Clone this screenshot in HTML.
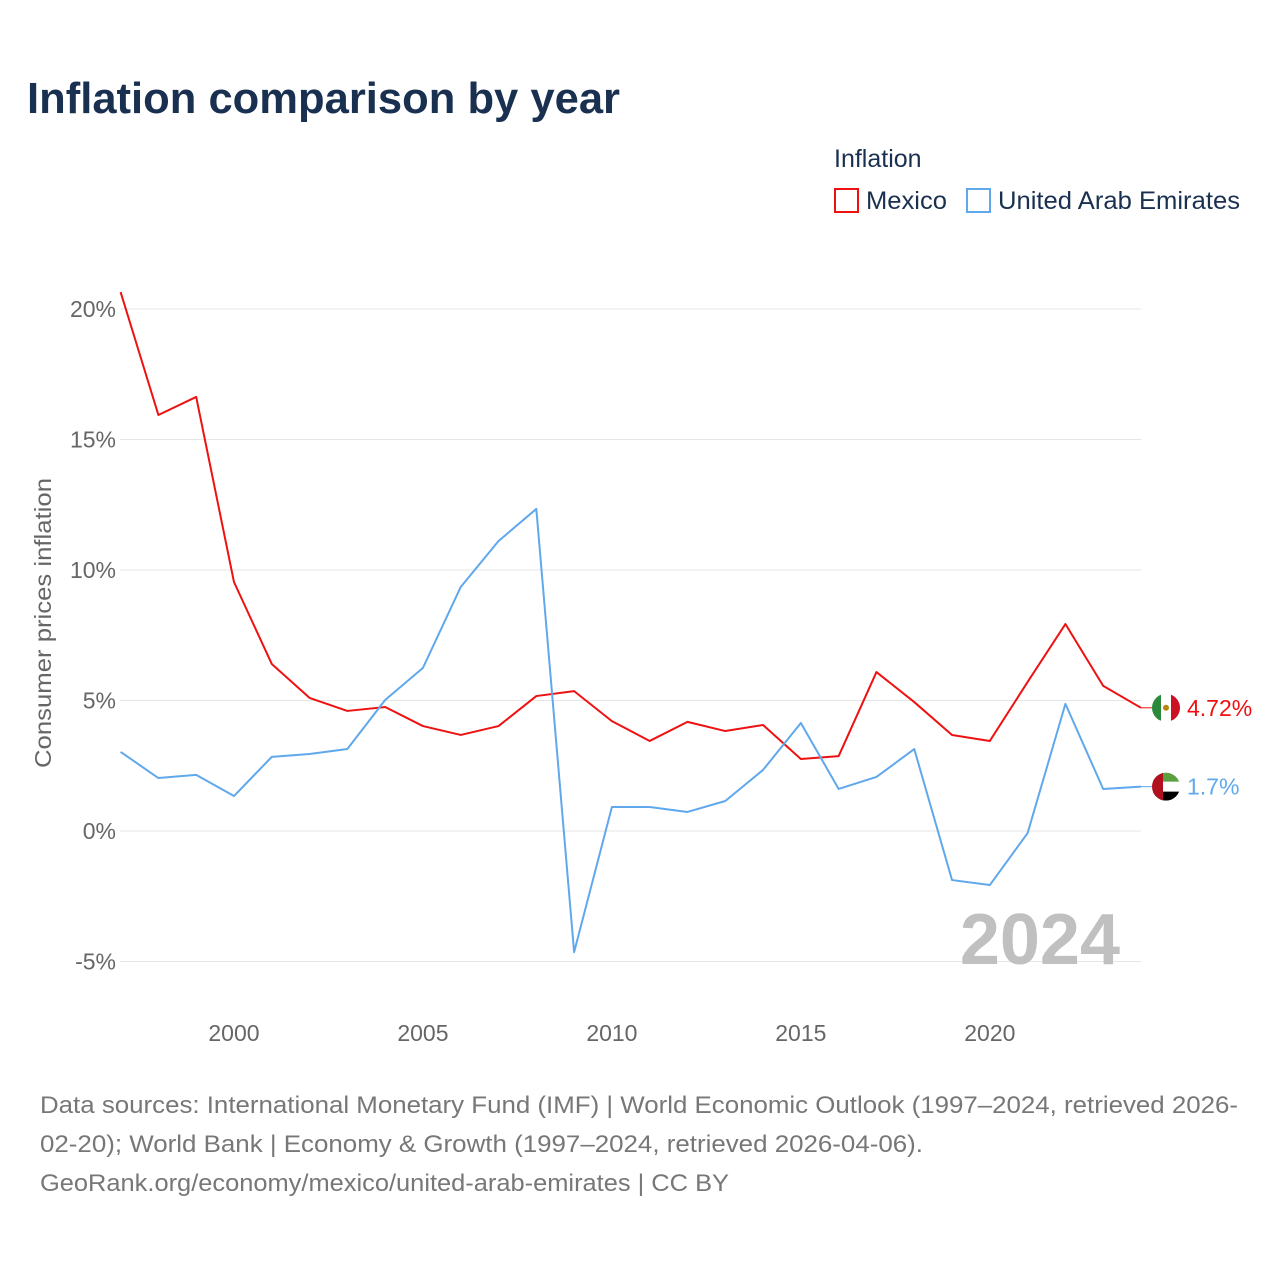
<!DOCTYPE html>
<html><head><meta charset="utf-8">
<style>
body{margin:0;background:#fff;font-family:"Liberation Sans",sans-serif;}
#wrap{position:relative;width:1280px;height:1280px;overflow:hidden;}
</style></head>
<body>
<div id="wrap">
<svg id="chart" width="1280" height="1280" xmlns="http://www.w3.org/2000/svg">
<text x="27" y="113" font-size="44" font-weight="bold" fill="#1a3050" textLength="593" lengthAdjust="spacingAndGlyphs">Inflation comparison by year</text>
<text x="834" y="167" font-size="25" fill="#1a3050">Inflation</text>
<g>
<rect x="835" y="189" width="23" height="23" fill="none" stroke="#ee1111" stroke-width="2"/>
<text x="866" y="209" font-size="25" fill="#1a3050" textLength="81" lengthAdjust="spacingAndGlyphs">Mexico</text></g>
<g>
<rect x="967" y="189" width="23" height="23" fill="none" stroke="#60a8ec" stroke-width="2"/>
<text x="998" y="209" font-size="25" fill="#1a3050" textLength="242" lengthAdjust="spacingAndGlyphs">United Arab Emirates</text></g>
<text transform="translate(51,623) rotate(-90)" text-anchor="middle" font-size="23" fill="#666" textLength="290" lengthAdjust="spacingAndGlyphs">Consumer prices inflation</text>
<g id="grid"></g><g id="yt"></g><g id="xt"></g>
<text x="1120" y="964" text-anchor="end" font-size="72" font-weight="bold" fill="#c0c0c0">2024</text>
<g id="lines"></g><g id="ends"></g>
<g font-size="24" fill="#777">
<text x="40" y="1113" textLength="1198" lengthAdjust="spacingAndGlyphs">Data sources: International Monetary Fund (IMF) | World Economic Outlook (1997–2024, retrieved 2026-</text>
<text x="40" y="1152" textLength="883" lengthAdjust="spacingAndGlyphs">02-20); World Bank | Economy &amp; Growth (1997–2024, retrieved 2026-04-06).</text>
<text x="40" y="1191" textLength="689" lengthAdjust="spacingAndGlyphs">GeoRank.org/economy/mexico/united-arab-emirates | CC BY</text>
</g>
</svg>
</div>
<script>
const years=[1997,1998,1999,2000,2001,2002,2003,2004,2005,2006,2007,2008,2009,2010,2011,2012,2013,2014,2015,2016,2017,2018,2019,2020,2021,2022,2023,2024];
const mexico=[20.65,15.94,16.63,9.54,6.40,5.10,4.60,4.75,4.02,3.68,4.02,5.17,5.36,4.21,3.45,4.18,3.83,4.06,2.76,2.87,6.09,4.94,3.68,3.45,5.71,7.93,5.56,4.72];
const uae=[3.03,2.03,2.15,1.34,2.84,2.95,3.14,5.02,6.25,9.35,11.11,12.34,-4.64,0.92,0.92,0.73,1.15,2.34,4.14,1.61,2.07,3.14,-1.88,-2.07,-0.08,4.87,1.61,1.7];
const yTicks=[-5,0,5,10,15,20];
const xTicks=[2000,2005,2010,2015,2020];
const NS="http://www.w3.org/2000/svg";
const X=y=>120.6+(y-1997)*(1141-120.6)/27;
const Y=v=>831-v*26.1;
function mk(t,a,p){const e=document.createElementNS(NS,t);for(const k in a)e.setAttribute(k,a[k]);document.getElementById(p).appendChild(e);return e;}
yTicks.forEach(v=>{
 const l=mk('line',{x1:120,x2:1141,y1:Y(v),y2:Y(v),stroke:'#e6e6e6','stroke-width':1},'grid');
 
 
 const t=mk('text',{x:116,y:Y(v)+8,'text-anchor':'end','font-size':23,fill:'#666'},'yt');
 t.textContent=v+'%';
 
 
});
xTicks.forEach(v=>{
 const t=mk('text',{x:X(v),y:1041,'text-anchor':'middle','font-size':23,fill:'#666'},'xt');
 t.textContent=v;
 
 
});
function line(d,c,n){
 const p=mk('polyline',{points:d.map((v,i)=>X(years[i])+','+Y(v)).join(' '),fill:'none',stroke:c,'stroke-width':2,'stroke-linejoin':'round'},'lines');
 
 
}
line(mexico,'#ee1111','mexico-line');
line(uae,'#60a8ec','uae-line');
function end(d,c,lab,n,flag){
 const v=d[d.length-1],x=X(years[years.length-1]),y=Y(v);
 mk('line',{x1:x,x2:x+12,y1:y,y2:y,stroke:c,'stroke-width':1},'ends');
 const g=mk('g',{},'ends');
 
 
 const cx=x+25;
 if(flag==='mx'){
  g.innerHTML=`<circle cx="${cx}" cy="${y}" r="14" fill="#fff"/><path d="M${cx-14},${y} a14,14 0 0 1 9,-13 v26 a14,14 0 0 1 -9,-13z" fill="#2a8a3a"/><path d="M${cx+14},${y} a14,14 0 0 0 -9,-13 v26 a14,14 0 0 0 9,-13z" fill="#cc1122"/><circle cx="${cx}" cy="${y}" r="3" fill="#b8860b"/>`;
 }else{
  g.innerHTML=`<clipPath id="cu"><circle cx="${cx}" cy="${y}" r="14"/></clipPath><g clip-path="url(#cu)"><rect x="${cx-14}" y="${y-14}" width="28" height="28" fill="#fff"/><rect x="${cx-14}" y="${y-14}" width="28" height="9" fill="#5aa040"/><rect x="${cx-14}" y="${y+5}" width="28" height="9" fill="#000"/><rect x="${cx-14}" y="${y-14}" width="11" height="28" fill="#b01020"/></g>`;
 }
 const t=mk('text',{x:x+46,y:y+8,'font-size':23,fill:c},'ends');
 t.textContent=lab;
 
 
}
end(mexico,'#ee1111','4.72%','mexico','mx');
end(uae,'#60a8ec','1.7%','uae','ae');
</script>
</body></html>
